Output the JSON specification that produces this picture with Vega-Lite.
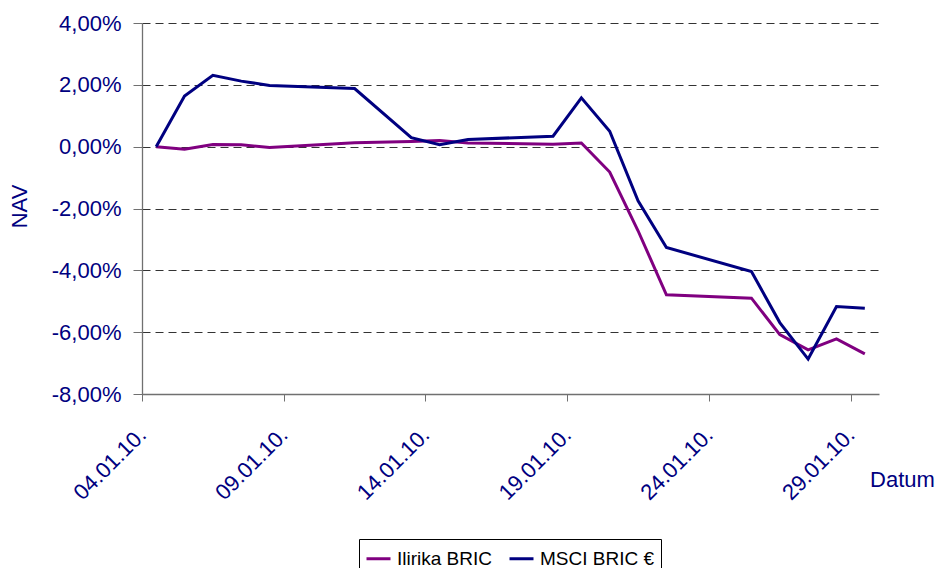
{
  "$schema": "https://vega.github.io/schema/vega-lite/v6.json",
  "width": 737,
  "height": 371,
  "autosize": {"type": "none"},
  "padding": {"left": 142, "top": 23, "right": 60, "bottom": 174},
  "background": "white",
  "config": {
    "font": "Liberation Sans",
    "view": {"stroke": null},
    "locale": {
      "number": {"decimal": ",", "thousands": ".", "grouping": [3], "currency": ["", " €"], "minus": "-"}
    }
  },
  "data": {
    "values": [
      {"date": "2010-01-04T12:00:00", "series": "Ilirika BRIC", "v": 0.0},
      {"date": "2010-01-05T12:00:00", "series": "Ilirika BRIC", "v": -0.0008},
      {"date": "2010-01-06T12:00:00", "series": "Ilirika BRIC", "v": 0.0007},
      {"date": "2010-01-07T12:00:00", "series": "Ilirika BRIC", "v": 0.0006},
      {"date": "2010-01-08T12:00:00", "series": "Ilirika BRIC", "v": -0.0003},
      {"date": "2010-01-11T12:00:00", "series": "Ilirika BRIC", "v": 0.0013},
      {"date": "2010-01-13T12:00:00", "series": "Ilirika BRIC", "v": 0.0017},
      {"date": "2010-01-14T12:00:00", "series": "Ilirika BRIC", "v": 0.002},
      {"date": "2010-01-15T12:00:00", "series": "Ilirika BRIC", "v": 0.0012},
      {"date": "2010-01-18T12:00:00", "series": "Ilirika BRIC", "v": 0.0008},
      {"date": "2010-01-19T12:00:00", "series": "Ilirika BRIC", "v": 0.0012},
      {"date": "2010-01-20T12:00:00", "series": "Ilirika BRIC", "v": -0.0082},
      {"date": "2010-01-21T12:00:00", "series": "Ilirika BRIC", "v": -0.0272},
      {"date": "2010-01-22T12:00:00", "series": "Ilirika BRIC", "v": -0.0479},
      {"date": "2010-01-25T12:00:00", "series": "Ilirika BRIC", "v": -0.049},
      {"date": "2010-01-26T12:00:00", "series": "Ilirika BRIC", "v": -0.0608},
      {"date": "2010-01-27T12:00:00", "series": "Ilirika BRIC", "v": -0.0657},
      {"date": "2010-01-28T12:00:00", "series": "Ilirika BRIC", "v": -0.0622},
      {"date": "2010-01-29T12:00:00", "series": "Ilirika BRIC", "v": -0.067},
      {"date": "2010-01-04T12:00:00", "series": "MSCI BRIC €", "v": 0.0},
      {"date": "2010-01-05T12:00:00", "series": "MSCI BRIC €", "v": 0.0164},
      {"date": "2010-01-06T12:00:00", "series": "MSCI BRIC €", "v": 0.0231},
      {"date": "2010-01-07T12:00:00", "series": "MSCI BRIC €", "v": 0.0212},
      {"date": "2010-01-08T12:00:00", "series": "MSCI BRIC €", "v": 0.0198},
      {"date": "2010-01-11T12:00:00", "series": "MSCI BRIC €", "v": 0.0188},
      {"date": "2010-01-13T12:00:00", "series": "MSCI BRIC €", "v": 0.0029},
      {"date": "2010-01-14T12:00:00", "series": "MSCI BRIC €", "v": 0.0006},
      {"date": "2010-01-15T12:00:00", "series": "MSCI BRIC €", "v": 0.0023},
      {"date": "2010-01-18T12:00:00", "series": "MSCI BRIC €", "v": 0.0034},
      {"date": "2010-01-19T12:00:00", "series": "MSCI BRIC €", "v": 0.0158},
      {"date": "2010-01-20T12:00:00", "series": "MSCI BRIC €", "v": 0.005},
      {"date": "2010-01-21T12:00:00", "series": "MSCI BRIC €", "v": -0.0175},
      {"date": "2010-01-22T12:00:00", "series": "MSCI BRIC €", "v": -0.0326},
      {"date": "2010-01-25T12:00:00", "series": "MSCI BRIC €", "v": -0.0404},
      {"date": "2010-01-26T12:00:00", "series": "MSCI BRIC €", "v": -0.0569},
      {"date": "2010-01-27T12:00:00", "series": "MSCI BRIC €", "v": -0.0687},
      {"date": "2010-01-28T12:00:00", "series": "MSCI BRIC €", "v": -0.0517},
      {"date": "2010-01-29T12:00:00", "series": "MSCI BRIC €", "v": -0.0523}
    ]
  },
  "mark": {"type": "line", "strokeWidth": 3, "strokeJoin": "miter"},
  "encoding": {
    "x": {
      "field": "date",
      "type": "temporal",
      "scale": {"domain": [{"year": 2010, "month": 1, "date": 4}, {"year": 2010, "month": 1, "date": 30}]},
      "axis": {
        "values": [
          {"year": 2010, "month": 1, "date": 4},
          {"year": 2010, "month": 1, "date": 9},
          {"year": 2010, "month": 1, "date": 14},
          {"year": 2010, "month": 1, "date": 19},
          {"year": 2010, "month": 1, "date": 24},
          {"year": 2010, "month": 1, "date": 29}
        ],
        "format": "%d.%m.%y.",
        "labelAngle": -45,
        "labelAlign": "right",
        "labelBaseline": "middle",
        "labelFontSize": 22,
        "labelColor": "#000080",
        "labelPadding": 30,
        "labelFlush": false,
        "labelOverlap": false,
        "tickSize": 7,
        "tickColor": "#707070",
        "domainColor": "#707070",
        "domainWidth": 1.3,
        "grid": false,
        "zindex": 1,
        "title": "Datum",
        "titleFontSize": 22,
        "titleFontWeight": "normal",
        "titleColor": "#000080",
        "titleX": 760,
        "titleY": 92,
        "titleAlign": "center",
        "titleBaseline": "alphabetic",
        "titleAngle": 0
      }
    },
    "y": {
      "field": "v",
      "type": "quantitative",
      "scale": {"domain": [-0.08, 0.04], "nice": false, "zero": false},
      "axis": {
        "values": [-0.08, -0.06, -0.04, -0.02, 0, 0.02, 0.04],
        "format": ".2%",
        "labelFontSize": 22,
        "labelColor": "#000080",
        "labelPadding": 12,
        "tickSize": 9,
        "tickColor": "#707070",
        "domainColor": "#707070",
        "domainWidth": 1.3,
        "grid": true,
        "gridColor": "#333333",
        "gridDash": [8, 5],
        "gridWidth": 1,
        "title": "NAV",
        "titleFontSize": 22,
        "titleFontWeight": "normal",
        "titleColor": "#000080",
        "titleAngle": -90,
        "titleX": -123,
        "titleY": 183,
        "titleAlign": "center",
        "titleBaseline": "middle"
      }
    },
    "color": {
      "field": "series",
      "type": "nominal",
      "scale": {"domain": ["Ilirika BRIC", "MSCI BRIC €"], "range": ["#800080", "#000080"]},
      "legend": {
        "title": null,
        "orient": "none",
        "direction": "horizontal",
        "legendX": 217,
        "legendY": 516,
        "columns": 2,
        "symbolType": "stroke",
        "symbolSize": 576,
        "symbolStrokeWidth": 3,
        "labelFontSize": 19,
        "labelColor": "#000000",
        "labelOffset": 5,
        "columnPadding": 10,
        "padding": 6,
        "strokeColor": "#000000",
        "fillColor": "#ffffff"
      }
    }
  }
}
